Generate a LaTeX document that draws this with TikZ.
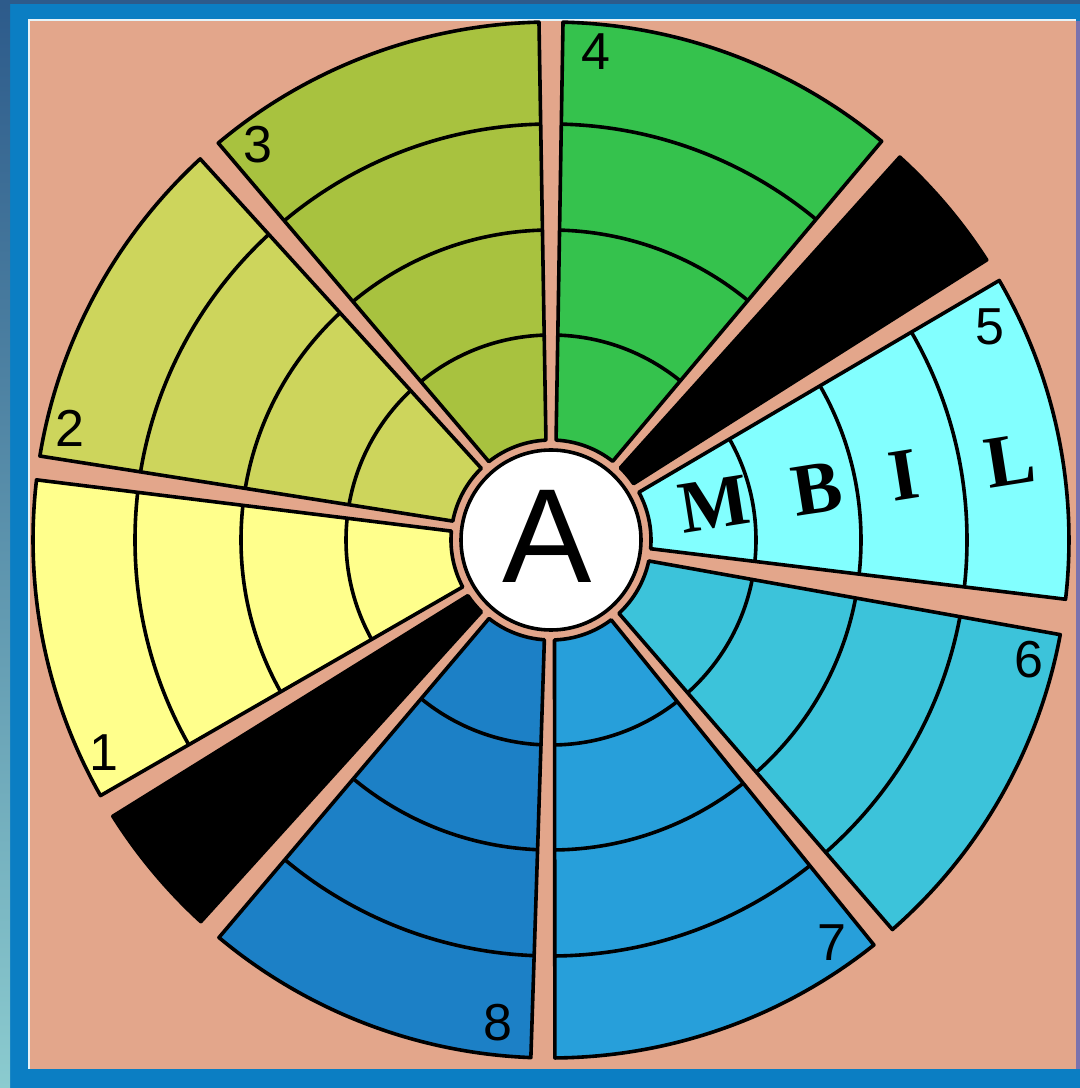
\documentclass[tikz,border=0pt]{standalone}
\usepackage{fontspec}
\setmainfont{Liberation Serif}
\newfontfamily\sansf{Liberation Sans}
\definecolor{frameblue}{HTML}{0B7EC3}
\definecolor{framedark}{HTML}{2D5B8B}
\definecolor{frameteal}{HTML}{8BCBCF}
\definecolor{framepurple}{HTML}{7A72AE}
\definecolor{edgewhite}{HTML}{E6F3F8}
\definecolor{salmon}{HTML}{E3A68B}
\definecolor{sA}{HTML}{FFFF8C}
\definecolor{sB}{HTML}{CDD55C}
\definecolor{sC}{HTML}{A8C23F}
\definecolor{sD}{HTML}{35C24D}
\definecolor{sE}{HTML}{82FFFF}
\definecolor{sF}{HTML}{3CC3DA}
\definecolor{sG}{HTML}{279FDA}
\definecolor{sH}{HTML}{1C80C6}
\tikzset{
  outl/.style={line width=1.8pt, line join=round},
  numlabel/.style={font=\sansf\fontsize{26}{26}\selectfont, inner sep=0pt},
  letlabel/.style={font=\bfseries\fontsize{37}{37}\selectfont, inner sep=0pt, rotate=9},
}
\begin{document}
\begin{tikzpicture}[x=0.5pt,y=0.5pt]
\useasboundingbox (0,0) rectangle (1080,1088);
% frame
\fill[frameblue] (0,0) rectangle (1080,1088);
\fill[framedark] (0,1084) rectangle (1080,1088);
\shade[top color=framedark, bottom color=frameteal] (0,0) rectangle (10,1084);
\fill[framepurple] (1076,19) rectangle (1080,1067);
\fill[edgewhite] (28,19) rectangle (1076,1069);
\fill[salmon] (30,19) rectangle (1076,1067);
% wheel
\def\rin{100}\def\rout{518}\def\gi{2.9}\def\go{1.33}
\begin{scope}[shift={(551,548)}]
\foreach \a/\b/\c in {49/90/sD, 31.4/49/black, -7.9/31.4/sE, -50.1/-9.2/sF,
    -90.9/-50.1/sG, -131.2/-90.9/sH, -149.1/-131.2/black, 172/210.9/sA,
    131.3/172/sB, 90/131.3/sC}{
  \fill[\c] ({\a+\gi}:\rin) -- ({\a+\go}:\rout)
     arc[start angle={\a+\go}, end angle={\b-\go}, radius=\rout]
     -- ({\b-\gi}:\rin)
     arc[start angle={\b-\gi}, end angle={\a+\gi}, radius=\rin] -- cycle;
  \begin{scope}
    \clip ({\a+\gi}:\rin) -- ({\a+\go}:\rout)
     arc[start angle={\a+\go}, end angle={\b-\go}, radius=\rout]
     -- ({\b-\gi}:\rin)
     arc[start angle={\b-\gi}, end angle={\a+\gi}, radius=\rin] -- cycle;
    \foreach \r in {205,310,416}{\draw[outl] (0,0) circle[radius=\r];}
  \end{scope}
  \draw[outl] ({\a+\gi}:\rin) -- ({\a+\go}:\rout)
     arc[start angle={\a+\go}, end angle={\b-\go}, radius=\rout]
     -- ({\b-\gi}:\rin)
     arc[start angle={\b-\gi}, end angle={\a+\gi}, radius=\rin] -- cycle;
}
\node[circle, fill=white, draw, outl, minimum size=90pt, inner sep=0pt] (hub) at (0,0) {};
\end{scope}
\node[font=\sansf\fontsize{67}{67}\selectfont, inner sep=0pt] (A) at (547,552) {A};
% numbers
\node[numlabel] (n1) at (104,335) {1};
\node[numlabel] (n2) at (70,660) {2};
\node[numlabel] (n3) at (258,943) {3};
\node[numlabel] (n4) at (596,1036) {4};
\node[numlabel] (n5) at (990,761) {5};
\node[numlabel] (n6) at (1029,428) {6};
\node[numlabel] (n7) at (832,145) {7};
\node[numlabel] (n8) at (498,65) {8};
% letters
\node[letlabel] (M) at (714,584) {M};
\node[letlabel] (B) at (817,599) {B};
\node[letlabel] (I) at (904,613) {I};
\node[letlabel] (L) at (1010,627) {L};
\end{tikzpicture}
\end{document}
